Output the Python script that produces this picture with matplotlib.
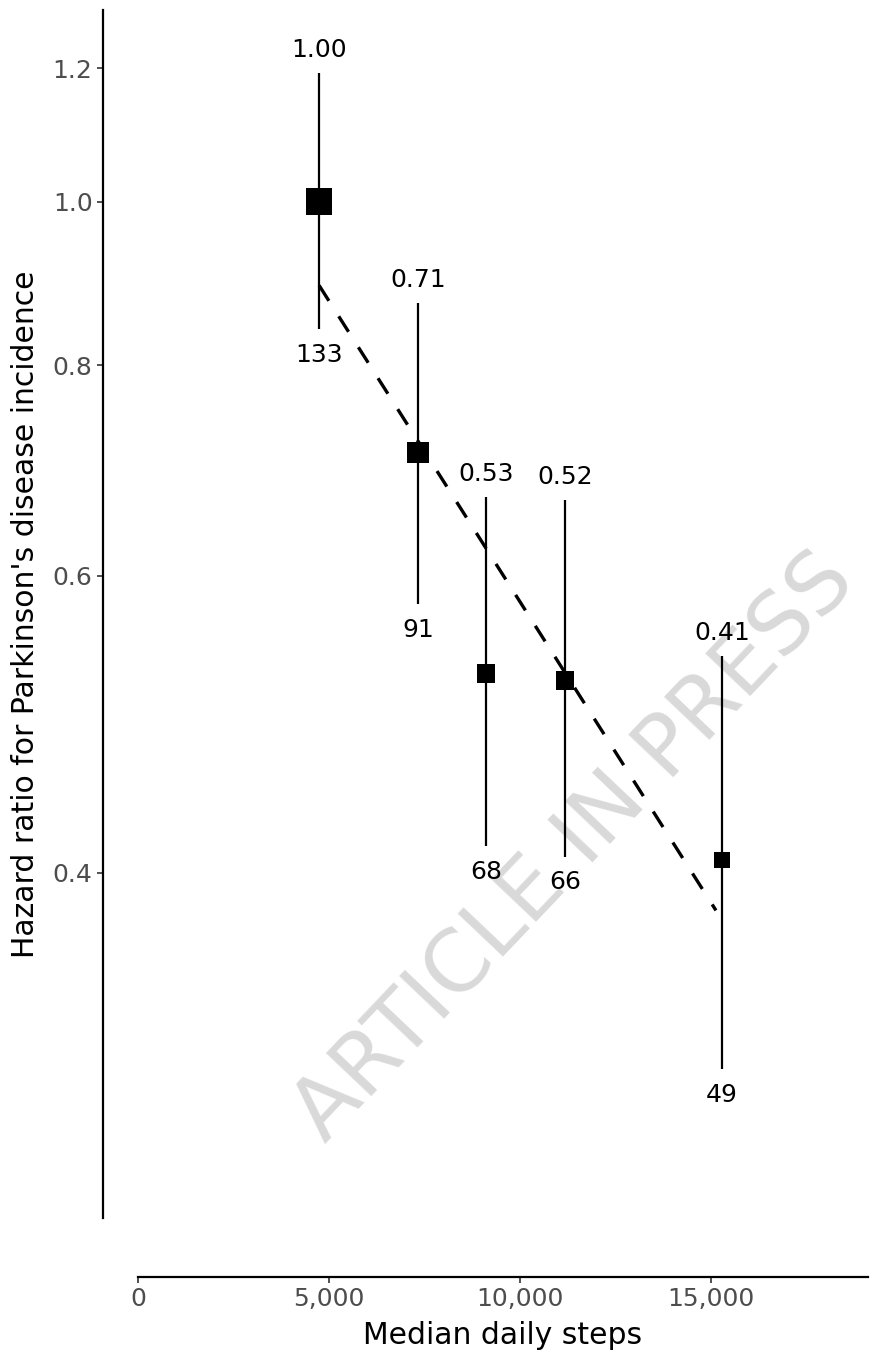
import matplotlib
matplotlib.use("Agg")
import matplotlib.pyplot as plt
from matplotlib.ticker import FixedLocator, FuncFormatter, NullLocator
import numpy as np

# ---- data ----
median_steps = [4740, 7330, 9110, 11180, 15290]
hazard_ratio = [1.00, 0.71, 0.525, 0.52, 0.407]
ci_lower = [0.84, 0.577, 0.415, 0.409, 0.306]
ci_upper = [1.192, 0.871, 0.668, 0.665, 0.538]
hr_labels = ["1.00", "0.71", "0.53", "0.52", "0.41"]
case_counts = [133, 91, 68, 66, 49]
trend_steps = [4740, 15130]
trend_hr = [0.892, 0.380]
x_ticks = [0, 5000, 10000, 15000]
y_ticks = [0.4, 0.6, 0.8, 1.0, 1.2]

W, H = 874, 1356
PX = 72 / 100  # points per pixel
fig = plt.figure(figsize=(W / 100, H / 100), dpi=100)
ax = fig.add_axes([138 / W, 1 - 1218 / H, (868 - 138) / W, (1218 - 10) / H])

ax.set_yscale("log")
ax.set_xlim(0, 19110)
ax.set_ylim(0.2497, 1.299)

# watermark (behind the data)
ax.text(574 / W, 1 - 848 / H, "ARTICLE IN PRESS", transform=fig.transFigure,
        rotation=46.5, fontsize=62, color="#d9d9d9", ha="center", va="center",
        rotation_mode="anchor", zorder=0, clip_on=False)

# error bars
ax.vlines(median_steps, ci_lower, ci_upper, colors="black", linewidth=1.6, zorder=2)

# trend line
ax.plot(trend_steps, trend_hr, color="black", linewidth=2.4, linestyle=(0, (5.5, 5.5)),
        dash_capstyle="butt", zorder=3)

# markers sized by case counts
sizes = [c * 2.7 for c in case_counts]
ax.scatter(median_steps, hazard_ratio, s=sizes, marker="s", color="black", zorder=4,
           linewidths=0)

for x, lo, hi, lab, n in zip(median_steps, ci_lower, ci_upper, hr_labels, case_counts):
    ax.annotate(lab, (x, hi), xytext=(0, 8), textcoords="offset points",
                ha="center", va="bottom", fontsize=18, color="black", zorder=5)
    ax.annotate(str(n), (x, lo), xytext=(0, -10), textcoords="offset points",
                ha="center", va="top", fontsize=18, color="black", zorder=5)

# axes styling
for s in ["top", "right"]:
    ax.spines[s].set_visible(False)
ax.spines["left"].set_position(("outward", 35 * PX))
ax.spines["bottom"].set_position(("outward", 59 * PX))
for s in ["left", "bottom"]:
    ax.spines[s].set_linewidth(1.6)
    ax.spines[s].set_color("black")

ax.yaxis.set_major_locator(FixedLocator(y_ticks))
ax.yaxis.set_minor_locator(NullLocator())
ax.yaxis.set_major_formatter(FuncFormatter(lambda v, p: f"{v:.1f}"))
ax.xaxis.set_major_locator(FixedLocator(x_ticks))
ax.xaxis.set_major_formatter(FuncFormatter(lambda v, p: f"{int(v):,}"))
ax.tick_params(axis="both", which="major", direction="out", length=4.5, width=1.2,
               color="#333333", labelcolor="#4d4d4d", labelsize=18, pad=3)

ax.set_xlabel("Median daily steps", fontsize=21.5, color="black", labelpad=7)
ax.set_ylabel("Hazard ratio for Parkinson's disease incidence", fontsize=21.5,
              color="black", labelpad=9)

fig.savefig("out.png", dpi=100, facecolor="white")
